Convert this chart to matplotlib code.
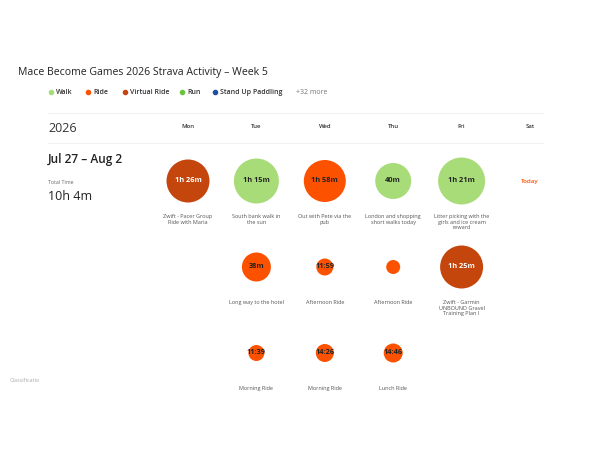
import matplotlib
matplotlib.use("Agg")
import matplotlib.pyplot as plt

plt.rcParams['font.family'] = ['Open Sans', 'DejaVu Sans']

# legend
legend_types = ["Walk", "Ride", "Virtual Ride", "Run", "Stand Up Paddling"]
legend_colors = ["#a8dc78", "#fc5200", "#c4460c", "#6cc43c", "#1f4fa0"]
legend_more = "+32 more"

days = ["Mon", "Tue", "Wed", "Thu", "Fri", "Sat"]

# activities of week 5
act_day = [0, 1, 2, 3, 4, 1, 2, 3, 4, 1, 2, 3]
act_row = [0, 0, 0, 0, 0, 1, 1, 1, 1, 2, 2, 2]
act_type = ["Virtual Ride", "Walk", "Ride", "Walk", "Walk",
            "Ride", "Ride", "Ride", "Virtual Ride",
            "Ride", "Ride", "Ride"]
act_time = ["1h 26m", "1h 15m", "1h 58m", "40m", "1h 21m",
            "38m", "11:59", "", "1h 25m",
            "11:39", "14:26", "14:46"]
act_bubble = [43, 45, 42, 36, 47, 29, 17, 14, 43, 16, 18, 19]  # bubble diameter
act_name = ["Zwift - Pacer Group\nRide with Maria",
            "South bank walk in\nthe sun",
            "Out with Pete via the\npub",
            "London and shopping\nshort walks today",
            "Litter picking with the\ngirls and ice cream\nreward",
            "Long way to the hotel",
            "Afternoon Ride",
            "Afternoon Ride",
            "Zwift - Garmin\nUNBOUND Gravel\nTraining Plan I",
            "Morning Ride",
            "Morning Ride",
            "Lunch Ride"]

title = "Mace Become Games 2026 Strava Activity – Week 5"
year = "2026"
week_range = "Jul 27 – Aug 2"
total_time = "10h 4m"

fig = plt.figure(figsize=(6, 4.5), dpi=100)
ax = fig.add_axes([0, 0, 1, 1])
ax.set_xlim(0, 600)
ax.set_ylim(450, 0)
ax.axis("off")

def col_x(d):
    return 188 + d * 68.4

def row_y(r):
    return 181 + r * 86

ax.text(18, 73, title, fontsize=7.6, color="#222222", va="center")

# legend row
lx = [51, 88, 125, 182, 215]
for i, t in enumerate(legend_types):
    ax.scatter(lx[i], 92, s=9, color=legend_colors[i], zorder=3)
    ax.text(lx[i] + 5, 92, t, fontsize=5, color="#333333", va="center", fontweight="semibold")
ax.text(296, 92, legend_more, fontsize=5, color="#777777", va="center")

# separators
ax.plot([48, 543], [113, 113], color="#f0f0f0", lw=0.8)
ax.plot([48, 543], [143, 143], color="#f0f0f0", lw=0.8)

ax.text(48, 128, year, fontsize=9, color="#333333", va="center")
for d, name in enumerate(days):
    ax.text(col_x(d), 127, name, fontsize=4.3, color="#333333", ha="center", va="center",
            fontweight="semibold")

ax.text(48, 160, week_range, fontsize=8.6, color="#222222", va="center", fontweight="semibold")
ax.text(48, 182, "Total Time", fontsize=3.8, color="#666666", va="center")
ax.text(48, 197, total_time, fontsize=9, color="#222222", va="center")

ax.text(col_x(5), 182, "Today", fontsize=4.5, color="#fc5200", ha="center", va="center",
        fontweight="semibold")

type_color = dict(zip(legend_types, legend_colors))
for i in range(len(act_day)):
    x = col_x(act_day[i])
    y = row_y(act_row[i])
    ax.scatter(x, y, s=(act_bubble[i] * 0.72) ** 2, color=type_color[act_type[i]],
               edgecolors="none", zorder=2)
    tc = "white" if act_type[i] == "Virtual Ride" else "#222222"
    ax.text(x, y, act_time[i], fontsize=5.3, color=tc, ha="center", va="center",
            fontweight="bold", zorder=3)
    ax.text(x, y + 33, act_name[i], fontsize=4, color="#555555", ha="center", va="top",
            linespacing=1.15)

ax.text(10, 381, "Classificatio", fontsize=4, color="#aaaaaa", va="center")

fig.savefig("out.png", dpi=100)
